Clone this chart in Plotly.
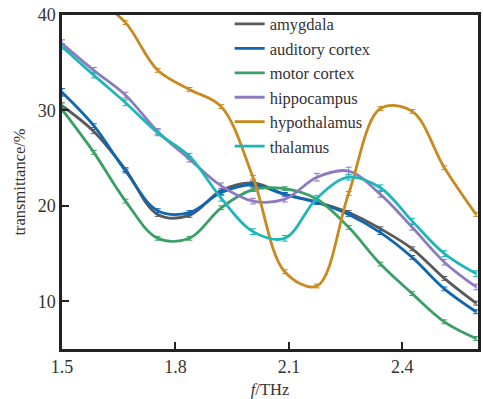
import plotly.graph_objects as go

freq = [1.5, 1.584, 1.668, 1.753, 1.837, 1.921, 2.005, 2.089, 2.174, 2.258, 2.342, 2.426, 2.511, 2.595]

amygdala = [30.5, 27.8, 23.8, 19.1, 19.0, 21.6, 22.4, 21.2, 20.4, 19.3, 17.6, 15.5, 12.4, 9.8]
auditory_cortex = [31.9, 28.4, 23.65, 19.5, 19.3, 21.4, 22.2, 21.2, 20.35, 19.1, 17.2, 14.6, 11.3, 8.9]
motor_cortex = [30.1, 25.6, 20.5, 16.6, 16.6, 19.8, 21.7, 21.8, 20.7, 17.75, 13.9, 10.8, 7.85, 6.1]
hippocampus = [37.0, 34.2, 31.6, 27.8, 24.9, 22.1, 20.5, 20.7, 23.0, 23.65, 21.2, 17.75, 14.1, 11.5]
hypothalamus = [45.5, 42.0, 39.2, 34.2, 32.2, 30.4, 23.0, 13.1, 11.6, 21.3, 30.2, 29.9, 24.0, 19.1]
thalamus = [36.7, 33.7, 30.8, 27.65, 25.2, 20.8, 17.3, 16.6, 20.8, 23.0, 21.9, 18.4, 15.0, 12.9]

err_amygdala = [0.3, 0.2, 0.2, 0.2, 0.2, 0.2, 0.2, 0.2, 0.2, 0.2, 0.2, 0.2, 0.2, 0.2]
err_auditory = [0.4, 0.2, 0.2, 0.2, 0.2, 0.2, 0.2, 0.2, 0.2, 0.2, 0.2, 0.2, 0.2, 0.2]
err_motor = [0.3, 0.2, 0.2, 0.2, 0.2, 0.2, 0.2, 0.2, 0.2, 0.2, 0.2, 0.2, 0.2, 0.2]
err_hippocampus = [0.4, 0.3, 0.3, 0.3, 0.3, 0.3, 0.3, 0.3, 0.4, 0.4, 0.3, 0.3, 0.3, 0.3]
err_hypothalamus = [0.2, 0.2, 0.2, 0.2, 0.2, 0.2, 0.2, 0.2, 0.2, 0.2, 0.2, 0.2, 0.2, 0.2]
err_thalamus = [0.3, 0.3, 0.3, 0.3, 0.3, 0.3, 0.3, 0.3, 0.3, 0.3, 0.3, 0.3, 0.3, 0.3]

names = ["amygdala", "auditory cortex", "motor cortex", "hippocampus", "hypothalamus", "thalamus"]
series = [amygdala, auditory_cortex, motor_cortex, hippocampus, hypothalamus, thalamus]
errors = [err_amygdala, err_auditory, err_motor, err_hippocampus, err_hypothalamus, err_thalamus]
colors = ["#58595b", "#0f67b1", "#3a9f66", "#8c7bc1", "#c8891f", "#1fb6b8"]

FONT = "Liberation Serif, Times New Roman, serif"

fig = go.Figure()
for name, vals, err, col in zip(names, series, errors, colors):
    fig.add_trace(go.Scatter(
        x=freq, y=vals, name=name, mode="lines",
        line=dict(color=col, width=2.8, shape="spline", smoothing=1.0),
        error_y=dict(type="data", array=err, visible=True, color=col, thickness=1, width=3),
    ))

fig.update_layout(
    width=483, height=399,
    margin=dict(l=62, r=2, t=15, b=49),
    paper_bgcolor="white", plot_bgcolor="white",
    font=dict(family=FONT, size=18, color="#333333"),
    showlegend=True,
    legend=dict(
        x=0.403, y=1.025, xanchor="left", yanchor="top",
        bgcolor="rgba(0,0,0,0)", borderwidth=0,
        font=dict(family=FONT, size=16.5, color="#333333"),
        tracegroupgap=0, itemwidth=30,
    ),
    xaxis=dict(
        range=[1.5, 2.6], tickvals=[1.5, 1.8, 2.1, 2.4], ticktext=["1.5", "1.8", "2.1", "2.4"],
        ticks="inside", ticklen=7, tickwidth=2, tickcolor="#222222",
        showline=True, linewidth=2.5, linecolor="#222222", mirror=True,
        showgrid=False, zeroline=False,
        tickfont=dict(family=FONT, size=18, color="#333333"),
        title=dict(text="<i>f</i>/THz", font=dict(family=FONT, size=16.5, color="#333333"), standoff=8),
    ),
    yaxis=dict(
        range=[5, 40], tickvals=[10, 20, 30, 40],
        ticks="inside", ticklen=7, tickwidth=2, tickcolor="#222222",
        showline=True, linewidth=2.5, linecolor="#222222", mirror=True,
        showgrid=False, zeroline=False,
        tickfont=dict(family=FONT, size=18, color="#333333"),
        title=dict(text="transmittance/%", font=dict(family=FONT, size=16.5, color="#333333"), standoff=8),
    ),
)

fig.write_html("out.html", config={"displayModeBar": False},
               post_script="document.body.style.margin='0px';")
